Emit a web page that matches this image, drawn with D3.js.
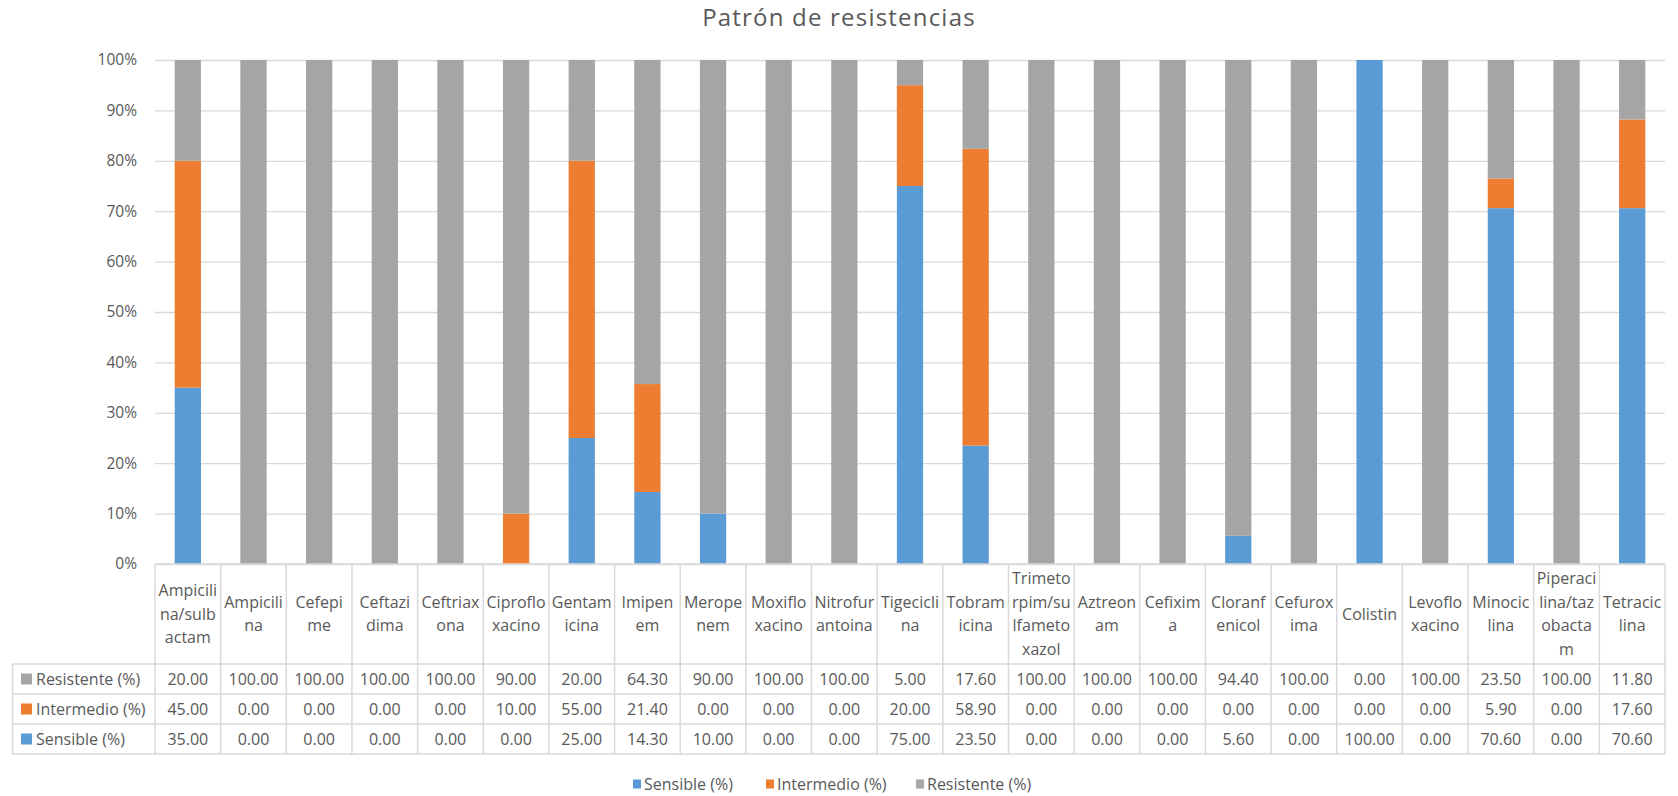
<!DOCTYPE html>
<html>
<head>
<meta charset="utf-8">
<script src="https://cdn.jsdelivr.net/npm/d3@7"></script>
<style>
  body { margin: 0; background: #fff; }
  svg text { font-family: "Open Sans", "Noto Sans", sans-serif; fill: #595959; }
</style>
</head>
<body>
<svg id="chart" width="1678" height="796"></svg>
<script>
// Chart data.
var categories = ["Ampicilina/sulbactam", "Ampicilina", "Cefepime", "Ceftazidima", "Ceftriaxona",
  "Ciprofloxacino", "Gentamicina", "Imipenem", "Meropenem", "Moxifloxacino", "Nitrofurantoina",
  "Tigeciclina", "Tobramicina", "Trimetorpim/sulfametoxazol", "Aztreonam", "Cefixima",
  "Cloranfenicol", "Cefuroxima", "Colistin", "Levofloxacino", "Minociclina",
  "Piperacilina/tazobactam", "Tetraciclina"];

// Category names as they wrap inside the table cells.
var catLines = [["Ampicili", "na/sulb", "actam"], ["Ampicili", "na"], ["Cefepi", "me"], ["Ceftazi", "dima"],
  ["Ceftriax", "ona"], ["Ciproflo", "xacino"], ["Gentam", "icina"], ["Imipen", "em"], ["Merope", "nem"],
  ["Moxiflo", "xacino"], ["Nitrofur", "antoina"], ["Tigecicli", "na"], ["Tobram", "icina"],
  ["Trimeto", "rpim/su", "lfameto", "xazol"], ["Aztreon", "am"], ["Cefixim", "a"], ["Cloranf", "enicol"],
  ["Cefurox", "ima"], ["Colistin"], ["Levoflo", "xacino"], ["Minocic", "lina"],
  ["Piperaci", "lina/taz", "obacta", "m"], ["Tetracic", "lina"]];

var sensible   = [35, 0, 0, 0, 0, 0, 25, 14.3, 10, 0, 0, 75, 23.5, 0, 0, 0, 5.6, 0, 100, 0, 70.6, 0, 70.6];
var intermedio = [45, 0, 0, 0, 0, 10, 55, 21.4, 0, 0, 0, 20, 58.9, 0, 0, 0, 0, 0, 0, 0, 5.9, 0, 17.6];
var resistente = [20, 100, 100, 100, 100, 90, 20, 64.3, 90, 100, 100, 5, 17.6, 100, 100, 100, 94.4, 100, 0, 100, 23.5, 100, 11.8];

var seriesNames = ["Sensible (%)", "Intermedio (%)", "Resistente (%)"];
var seriesColors = ["#5B9BD5", "#ED7D31", "#A5A5A5"];
var yTicks = [0, 0.1, 0.2, 0.3, 0.4, 0.5, 0.6, 0.7, 0.8, 0.9, 1];

var svg = d3.select("#chart");
var gridColor = "#d9d9d9";
var fontSize = "16px";

// Plot box.
var plotLeft = 155, plotRight = 1665, plotTop = 60, plotBottom = 564;
var tableLeft = 12.5;
var headerBottom = 664;
var rowEdges = [664, 694, 724, 754];

var x = d3.scaleBand().domain(categories).range([plotLeft, plotRight]).padding(0);
var y = d3.scaleLinear().domain([0, 1]).range([plotBottom, plotTop]);
var color = d3.scaleOrdinal().domain(seriesNames).range(seriesColors);

// Title.
svg.append("text")
  .attr("x", 839).attr("y", 26)
  .attr("text-anchor", "middle")
  .style("font-size", "24px")
  .style("letter-spacing", "1.2px")
  .text("Patrón de resistencias");

// Gridlines.
svg.append("g")
  .attr("transform", "translate(" + plotLeft + ",0)")
  .call(d3.axisLeft(y).tickValues(yTicks).tickSize(-(plotRight - plotLeft)).tickFormat(""))
  .call(function(g) { g.select(".domain").remove(); })
  .selectAll("line").attr("stroke", gridColor).attr("stroke-width", 1.3);

// Y axis labels.
svg.append("g")
  .attr("transform", "translate(" + plotLeft + ",0)")
  .call(d3.axisLeft(y).tickValues(yTicks).tickSize(0).tickPadding(18).tickFormat(d3.format(".0%")))
  .call(function(g) { g.select(".domain").remove(); })
  .selectAll("text").style("font-size", "15.5px").attr("fill", "#595959");

// Stacked 100% bars.
var rows = categories.map(function(c, i) {
  return { cat: c, "Sensible (%)": sensible[i], "Intermedio (%)": intermedio[i], "Resistente (%)": resistente[i] };
});
var stacked = d3.stack().keys(seriesNames).offset(d3.stackOffsetExpand)(rows);
var barW = x.bandwidth() * 0.4;

svg.append("g").selectAll("g")
  .data(stacked)
  .join("g")
  .attr("fill", function(d) { return color(d.key); })
  .selectAll("rect")
  .data(function(d) { return d; })
  .join("rect")
  .attr("x", function(d) { return x(d.data.cat) + (x.bandwidth() - barW) / 2; })
  .attr("width", barW)
  .attr("y", function(d) { return y(d[1]); })
  .attr("height", function(d) { return y(d[0]) - y(d[1]); });

// Data table below the plot.
var table = svg.append("g").attr("stroke", gridColor).attr("stroke-width", 1.5);
table.append("line").attr("x1", plotLeft).attr("x2", plotRight).attr("y1", plotBottom).attr("y2", plotBottom);
rowEdges.forEach(function(ry) {
  table.append("line").attr("x1", tableLeft).attr("x2", plotRight).attr("y1", ry).attr("y2", ry);
});
table.append("line").attr("x1", tableLeft).attr("x2", tableLeft).attr("y1", headerBottom).attr("y2", rowEdges[3]);
categories.concat([null]).forEach(function(c) {
  var cx = c === null ? plotRight : x(c);
  table.append("line").attr("x1", cx).attr("x2", cx).attr("y1", plotBottom).attr("y2", rowEdges[3]);
});

// Header labels (wrapped category names).
var lineH = 23.5;
var headerMid = (plotBottom + headerBottom) / 2;
svg.append("g").selectAll("text")
  .data(categories)
  .join("text")
  .attr("text-anchor", "middle")
  .style("font-size", fontSize)
  .each(function(c, i) {
    var lines = catLines[i];
    var t = d3.select(this);
    lines.forEach(function(l, k) {
      t.append("tspan")
        .attr("x", x(c) + x.bandwidth() / 2)
        .attr("y", headerMid + (k - (lines.length - 1) / 2) * lineH)
        .attr("dy", "0.35em")
        .text(l);
    });
  });

// Table rows: Resistente, Intermedio, Sensible.
var tableSeries = [
  { name: "Resistente (%)", values: resistente },
  { name: "Intermedio (%)", values: intermedio },
  { name: "Sensible (%)", values: sensible }
];
tableSeries.forEach(function(s, r) {
  var cy = (rowEdges[r] + rowEdges[r + 1]) / 2;
  svg.append("rect")
    .attr("x", 21).attr("y", cy - 5.5).attr("width", 11).attr("height", 11)
    .attr("fill", color(s.name));
  svg.append("text")
    .attr("x", 36).attr("y", cy).attr("dy", "0.35em")
    .style("font-size", fontSize)
    .text(s.name);
  svg.append("g").selectAll("text")
    .data(s.values)
    .join("text")
    .attr("x", function(d, i) { return x(categories[i]) + x.bandwidth() / 2; })
    .attr("y", cy).attr("dy", "0.35em")
    .attr("text-anchor", "middle")
    .style("font-size", fontSize)
    .text(function(d) { return d.toFixed(2); });
});

// Bottom legend.
var legendX = [633, 766, 916];
var legend = svg.append("g").selectAll("g")
  .data(seriesNames)
  .join("g")
  .attr("transform", function(d, i) { return "translate(" + legendX[i] + ",784)"; });
legend.append("rect").attr("x", 0).attr("y", -4.5).attr("width", 8).attr("height", 9)
  .attr("fill", function(d) { return color(d); });
legend.append("text").attr("x", 11).attr("dy", "0.35em")
  .style("font-size", fontSize)
  .text(function(d) { return d; });
</script>
</body>
</html>
